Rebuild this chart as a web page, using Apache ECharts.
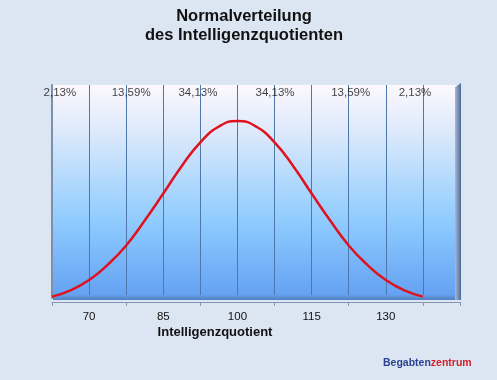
<!DOCTYPE html>
<html>
<head>
<meta charset="utf-8">
<script src="https://cdn.jsdelivr.net/npm/echarts@6/dist/echarts.min.js"></script>
<style>
html,body{margin:0;padding:0;background:#dce6f3;}
#c{width:497px;height:380px;}
</style>
</head>
<body>
<div id="c"></div>
<script>
// IQ values (x) and density in % (y)
var iqValues = [62.5, 66.25, 70, 73.75, 77.5, 81.25, 85, 88.75, 92.5, 96.25, 100,
                103.75, 107.5, 111.25, 115, 118.75, 122.5, 126.25, 130, 133.75, 137.5];
var density = [0.12, 0.21, 0.36, 0.58, 0.86, 1.22, 1.61, 2.01, 2.35, 2.58, 2.66,
               2.58, 2.35, 2.01, 1.61, 1.22, 0.86, 0.58, 0.36, 0.21, 0.12];
var tickLabels = [70, 85, 100, 115, 130];
var pctLabels = ['2,13%', '13,59%', '34,13%', '34,13%', '13,59%', '2,13%'];
var pctLabelX = [64.1, 78.5, 92.0, 107.6, 122.9, 135.9];
var pctLabelY = 3.06;

var axisMinIQ = 62.5, axisMaxIQ = 145;
var span = axisMaxIQ - axisMinIQ;

var curveData = iqValues.map(function (x, i) { return [x - axisMinIQ, density[i]]; });
var pctData = pctLabelX.map(function (x, i) { return [x - axisMinIQ, pctLabelY, pctLabels[i]]; });

var chart = echarts.init(document.getElementById('c'));
chart.setOption({
  backgroundColor: '#dce6f3',
  animation: false,
  grid: {
    left: 52, right: 37, top: 85, bottom: 82,
    show: true, borderWidth: 0,
    backgroundColor: new echarts.graphic.LinearGradient(0, 0, 0, 1, [
      {offset: 0, color: '#fdf8fd'},
      {offset: 0.22, color: '#dde9fb'},
      {offset: 0.48, color: '#acd7fd'},
      {offset: 0.65, color: '#8ecafe'},
      {offset: 1, color: '#63a0f2'}
    ])
  },
  xAxis: [{
    type: 'value', min: 0, max: span, interval: 7.5,
    axisLine: {show: false},
    axisTick: {show: false},
    splitLine: {show: true, lineStyle: {color: '#4d78ac', width: 1}},
    axisLabel: {
      margin: 13,
      color: '#111',
      fontFamily: 'Liberation Sans',
      fontSize: 11.5,
      formatter: function (v) {
        var iq = Math.round((v + axisMinIQ) * 100) / 100;
        return tickLabels.indexOf(iq) >= 0 ? String(iq) : '';
      }
    }
  }, {
    type: 'value', min: 0, max: span, interval: 15, position: 'bottom', offset: 4,
    axisLine: {show: true, lineStyle: {color: '#8597b3', width: 1}},
    axisTick: {show: true, length: 4, lineStyle: {color: '#8597b3'}},
    splitLine: {show: false},
    axisLabel: {show: false}
  }],
  yAxis: {
    type: 'value', min: 0.1, max: 3.18,
    axisLine: {show: true, lineStyle: {color: '#7d90ab', width: 2}},
    axisTick: {show: false},
    axisLabel: {show: false},
    splitLine: {show: false}
  },
  graphic: [
    {type: 'rect', z: 1, shape: {x: 53, y: 295, width: 404, height: 5},
     style: {fill: new echarts.graphic.LinearGradient(0, 0, 0, 1, [
       {offset: 0, color: '#6a9ee6'}, {offset: 1, color: '#4f7fc4'}])}},
    {type: 'polygon', z: 1, shape: {points: [[455, 87], [461, 83], [461, 300], [455, 300]]},
     style: {fill: new echarts.graphic.LinearGradient(0, 0, 1, 0, [
       {offset: 0, color: '#a7b9d6'}, {offset: 1, color: '#4f6a93'}])}},
    {type: 'text', style: {
      text: 'Normalverteilung', x: 244, y: 16, textAlign: 'center', textVerticalAlign: 'middle',
      font: 'bold 16.5px "Liberation Sans"', fill: '#111'}},
    {type: 'text', style: {
      text: 'des Intelligenzquotienten', x: 244, y: 35, textAlign: 'center', textVerticalAlign: 'middle',
      font: 'bold 16.5px "Liberation Sans"', fill: '#111'}},
    {type: 'text', style: {
      text: 'Intelligenzquotient', x: 215, y: 332, textAlign: 'center', textVerticalAlign: 'middle',
      font: 'bold 13px "Liberation Sans"', fill: '#111'}},
    {type: 'text', style: {
      text: '{a|Begabten}{b|zentrum}', x: 383, y: 363, textVerticalAlign: 'middle',
      rich: {
        a: {font: 'bold 10.5px "Liberation Sans"', fill: '#2c4290'},
        b: {font: 'bold 10.5px "Liberation Sans"', fill: '#d0212b'}
      }}}
  ],
  series: [{
    type: 'line',
    data: curveData,
    smooth: true,
    showSymbol: false,
    symbol: 'none',
    z: 5,
    lineStyle: {color: '#e0121e', width: 2.5}
  }, {
    type: 'scatter',
    data: pctData,
    symbolSize: 0,
    z: 6,
    label: {
      show: true, position: 'inside',
      formatter: function (p) { return p.data[2]; },
      color: '#111', fontFamily: 'Liberation Sans', fontSize: 11.5
    }
  }]
});
</script>
</body>
</html>
